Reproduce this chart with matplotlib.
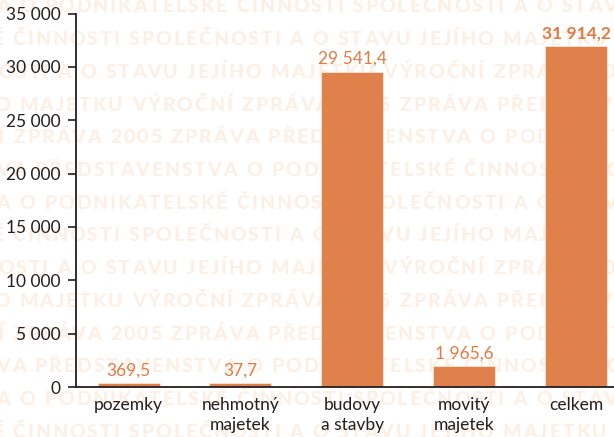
import matplotlib
matplotlib.use('Agg')
import matplotlib.pyplot as plt
import numpy as np
from matplotlib.font_manager import FontProperties

# ---------------- data ----------------
categories = ['pozemky', 'nehmotný\nmajetek', 'budovy\na stavby', 'movitý\nmajetek', 'celkem']
values = [369.5, 37.7, 29541.4, 1965.6, 31914.2]
value_labels = ['369,5', '37,7', '29 541,4', '1 965,6', '31 914,2']
bold_labels = [False, False, False, False, True]
yticks = [0, 5000, 10000, 15000, 20000, 25000, 30000, 35000]
ytick_labels = ['0', '5 000', '10 000', '15 000', '20 000', '25 000', '30 000', '35 000']

watermark_lines = [
    'A O PODNIKATELSKÉ ČINNOSTI SPOLEČNOSTI A O STAVU JEJÍHO',
    'É ČINNOSTI SPOLEČNOSTI A O STAVU JEJÍHO MAJETKU VÝROČNÍ',
    'OSTI A O STAVU JEJÍHO MAJETKU VÝROČNÍ ZPRÁVA 2005 ZPRÁVA',
    'O MAJETKU VÝROČNÍ ZPRÁVA 2005 ZPRÁVA PŘEDSTAVENSTVA',
    'Í ZPRÁVA 2005 ZPRÁVA PŘEDSTAVENSTVA O PODNIKATELSKÉ',
    'VA PŘEDSTAVENSTVA O PODNIKATELSKÉ ČINNOSTI SPOLEČNOSTI',
]
watermark_x0 = [-4, -8, -2, -6, -2, -4]

# ---------------- style ----------------
plt.rcParams['font.family'] = ['Lato', 'DejaVu Sans']
W, H = 614, 437
fig = plt.figure(figsize=(W / 100, H / 100), dpi=100)
fig.patch.set_facecolor('white')

bar_color = '#e0804a'
label_color = '#e07b45'
axis_color = '#231f20'
wm_color = '#fdefe4'

# ---------------- watermark ----------------
renderer = fig.canvas.get_renderer()
wm_size = 14.0
wm_prop = FontProperties(family=['Lato', 'DejaVu Sans'], weight='black', size=wm_size)
font_px = wm_size * 100 / 72
tracking = 0.1 * font_px
space_w = 0.28 * font_px
n_rows = 14
pitch = 32.7
for k in range(n_rows):
    line = watermark_lines[k % 6]
    xpos = watermark_x0[k % 6]
    baseline = 5 + pitch * k + 7.5
    for ch in line:
        if xpos > W:
            break
        if ch == ' ':
            w = space_w
        else:
            w, _, _ = renderer.get_text_width_height_descent(ch, wm_prop, ismath=False)
            fig.text(xpos / W, 1 - baseline / H, ch, fontproperties=wm_prop,
                     color=wm_color, ha='left', va='baseline', zorder=-5)
        xpos += w + tracking

# ---------------- chart ----------------
ax = fig.add_axes([76 / W, 1 - 387 / H, (W - 76) / W, (387 - 13.5) / H])
ax.patch.set_alpha(0)

x = np.arange(len(categories))
heights = np.maximum(values, 350)  # visual floor so tiny values stay visible
ax.bar(x, heights, width=0.555, color=bar_color, edgecolor='#fbe3d6',
       linewidth=0.6, zorder=2)

for xi, h, lab, b in zip(x, heights, value_labels, bold_labels):
    ax.annotate(lab, (xi, h), xytext=(0, 3.5), textcoords='offset points',
                ha='center', va='bottom', fontsize=12.5, color=label_color,
                fontweight='bold' if b else 'normal')

ax.set_xlim(-0.47, 4.34)
ax.set_ylim(0, 35000)
ax.set_yticks(yticks)
ax.set_yticklabels(ytick_labels)
ax.set_xticks(x)
ax.set_xticklabels(categories, linespacing=1.3)

for s in ['top', 'right']:
    ax.spines[s].set_visible(False)
for s in ['left', 'bottom']:
    ax.spines[s].set_color(axis_color)
    ax.spines[s].set_linewidth(1.3)

ax.tick_params(axis='y', direction='out', length=6, width=1.2, color=axis_color,
               pad=5, labelsize=12.5, labelcolor=axis_color)
ax.tick_params(axis='x', length=0, pad=7, labelsize=12.5, labelcolor=axis_color)

fig.savefig('out.png', dpi=100, facecolor='white')
